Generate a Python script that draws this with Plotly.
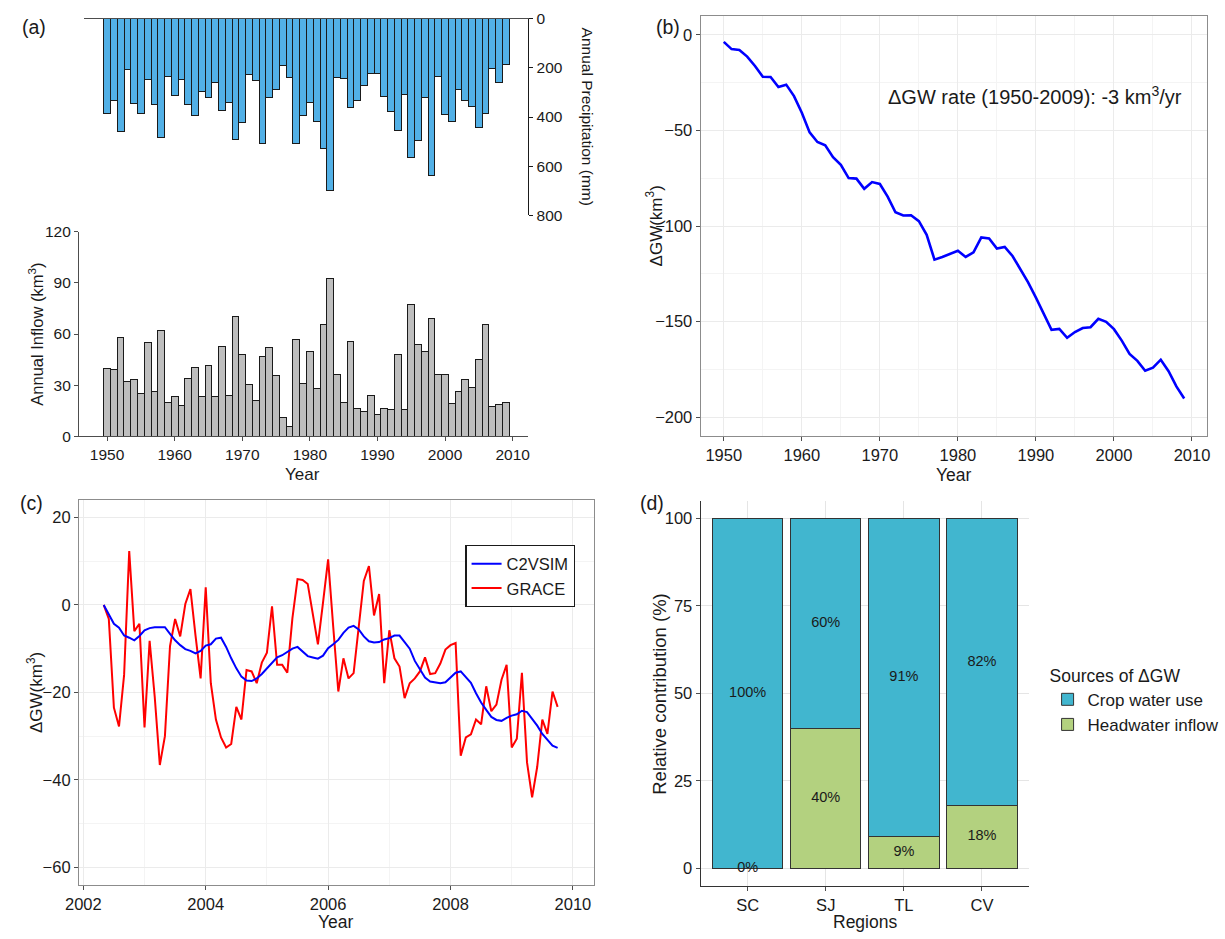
import plotly.graph_objects as go

W, H = 1225, 939
FONT = "Liberation Sans, Arial, sans-serif"

# ---------------- data ----------------
years = list(range(1950, 2010))
precip_mm = [387, 333, 460, 208, 344, 387, 248, 351, 484, 237,
             313, 249, 348, 393, 297, 321, 261, 373, 339, 493,
             421, 227, 251, 507, 321, 288, 192, 241, 509, 392,
             340, 417, 528, 701, 241, 243, 361, 331, 272, 223,
             223, 315, 377, 453, 309, 563, 497, 320, 637, 237,
             388, 420, 288, 331, 357, 441, 385, 203, 260, 187]
inflow_km3 = [40, 39, 58, 32, 33, 25, 55, 26, 62, 19.5,
              23.5, 18, 34, 40.5, 23, 41.5, 23, 52.5, 24, 70,
              48, 30.5, 21, 46.5, 52, 35.5, 11, 5.5, 57, 31,
              49.5, 28, 65.5, 92.5, 36.5, 20, 55.5, 16.5, 14.5, 24,
              13, 16, 15.5, 48, 15.5, 77.5, 54, 49.5, 69, 36,
              36, 19, 26, 33, 28.5, 45, 65.5, 17.5, 18.5, 19.5]
dgw_annual = [-3.6, -7.4, -7.9, -11.3, -16.2, -21.9, -22.0, -27.2, -26.0, -32.0,
              -40.7, -51.0, -56.0, -57.8, -64.0, -68.0, -74.9, -75.2, -80.5, -77.0,
              -78.0, -84.6, -92.8, -94.5, -94.4, -97.5, -104.6, -117.6, -116.2, -114.8,
              -113.0, -116.2, -113.8, -106.0, -106.5, -111.8, -111.0, -115.7, -122.7, -129.5,
              -137.5, -145.7, -154.4, -153.9, -158.5, -155.5, -153.4, -153.0, -148.6, -150.2,
              -154.0, -160.0, -167.0, -170.6, -175.8, -174.2, -170.0, -176.0, -184.0, -190.3]

# monthly time axis (Apr 2002 - Sep 2009)
month_t = [2002 + (4 + k) / 12 for k in range(90)]
c2vsim = [0, -2, -4.3, -5.2, -7, -7.5, -8.1, -7.1, -5.8, -5.3,
          -5.1, -5.1, -5.1, -6.6, -8.1, -9.2, -10.1, -10.5, -11.1, -10.5,
          -9.3, -9.0, -7.7, -7.5, -9.6, -12.2, -14.5, -16.4, -17.3, -17.4,
          -16.8, -15.8, -14.5, -13.4, -12.0, -11.5, -10.7, -10.0, -9.6, -10.6,
          -11.7, -12.0, -12.3, -11.6, -9.9, -9.0, -8.0, -6.4, -5.2, -4.8,
          -5.6, -7.2, -8.3, -8.6, -8.5, -7.9, -7.6, -7.0, -7.0, -8.5,
          -10.0, -12.8, -14.8, -16.6, -17.5, -17.7, -17.9, -17.7, -16.6, -15.5,
          -15.2, -16.6, -17.8, -20.2, -22.3, -24.0, -25.6, -26.3, -26.5, -25.8,
          -25.3, -25.0, -24.2, -24.5, -26.0, -27.6, -29.5, -30.9, -32.2, -32.7]
grace = [0, -3.2, -23.5, -27.8, -16, 12.3, -6, -4.3, -28, -8.2,
         -21, -36.6, -30, -9.4, -3.2, -7.2, 0.2, 3.6, -7, -16.8,
         4.0, -17.9, -26.2, -30.3, -32.6, -31.8, -23.3, -26.2, -14.9, -15.2,
         -17.9, -13.2, -10.9, -0.3, -13.7, -13.7, -15.5, -3, 5.9, 5.7,
         4.8, -2, -9, 0.5, 10.4, -5, -19.8, -12.2, -16.8, -15.6,
         -5, 5.5, 8.9, -2.4, 2.5, -17.9, -5.8, -12.2, -14.1, -21.3,
         -17.9, -16.8, -15.2, -12, -15.8, -15.6, -13.4, -10.2, -9.2, -8.7,
         -34.5, -30.3, -29.6, -26.2, -27.3, -18.6, -24.3, -22.8, -17.1, -13.7,
         -32.6, -30.6, -15.5, -36, -44, -37, -26.2, -29.5, -19.8, -23.3]

regions = ["SC", "SJ", "TL", "CV"]
crop_pct = [100, 60, 91, 82]
headwater_pct = [0, 40, 9, 18]


def px_x(a):
    return a / W


def px_y(b):
    return 1 - b / H


fig = go.Figure()

# (a) precipitation (hanging bars)
fig.add_trace(go.Bar(x=years, y=precip_mm, width=1,
                     marker=dict(color="#52B0E6", line=dict(color="#1a1a1a", width=1)),
                     xaxis="x", yaxis="y", showlegend=False))
# (a) inflow
fig.add_trace(go.Bar(x=years, y=inflow_km3, width=1,
                     marker=dict(color="#BEBEBE", line=dict(color="#1a1a1a", width=1)),
                     xaxis="x2", yaxis="y2", showlegend=False))
# (b)
fig.add_trace(go.Scatter(x=years, y=dgw_annual, mode="lines",
                         line=dict(color="#0000FF", width=2.6),
                         xaxis="x3", yaxis="y3", showlegend=False))
# (c)
fig.add_trace(go.Scatter(x=month_t, y=grace, mode="lines", name="GRACE",
                         line=dict(color="#FF0000", width=2),
                         xaxis="x4", yaxis="y4", legend="legend", legendrank=2))
fig.add_trace(go.Scatter(x=month_t, y=c2vsim, mode="lines", name="C2VSIM",
                         line=dict(color="#0000FF", width=2),
                         xaxis="x4", yaxis="y4", legend="legend", legendrank=1))
# (d)
fig.add_trace(go.Bar(x=regions, y=headwater_pct, name="Headwater inflow", width=0.9,
                     marker=dict(color="#B3D17F", line=dict(color="#333333", width=1)),
                     xaxis="x5", yaxis="y5", legend="legend2", legendrank=2))
fig.add_trace(go.Bar(x=regions, y=crop_pct, name="Crop water use", width=0.9,
                     marker=dict(color="#41B6CF", line=dict(color="#333333", width=1)),
                     xaxis="x5", yaxis="y5", legend="legend2", legendrank=1))
lab_x = regions + regions
lab_y = [h / 2 for h in headwater_pct] + [h + c / 2 for h, c in zip(headwater_pct, crop_pct)]
lab_t = [f"{v}%" for v in headwater_pct] + [f"{v}%" for v in crop_pct]
fig.add_trace(go.Scatter(x=lab_x, y=lab_y, text=lab_t, mode="text",
                         textfont=dict(family=FONT, size=14.5, color="#1a1a1a"),
                         xaxis="x5", yaxis="y5", showlegend=False, hoverinfo="skip"))

tick_a = dict(family=FONT, size=15.5, color="#1a1a1a")
tick_g = dict(family=FONT, size=16.5, color="#1a1a1a")
bw_x = dict(showline=True, mirror=True, linecolor="#8c8c8c", linewidth=1.3,
            ticks="outside", ticklen=4, tickcolor="#4d4d4d", tickwidth=1.2,
            showgrid=True, gridcolor="#EBEBEB", gridwidth=1.2, zeroline=False,
            tickfont=tick_g)

fig.update_layout(
    width=W, height=H, margin=dict(l=0, r=0, t=0, b=0),
    paper_bgcolor="white", plot_bgcolor="white", barmode="stack",
    font=dict(family=FONT, size=15, color="#1a1a1a"),
    xaxis=dict(domain=[px_x(71), px_x(522)], range=[1946.57, 2012.32], anchor="y",
               side="top", showline=True, linecolor="#4d4d4d", linewidth=1.3,
               ticks="", showticklabels=False, showgrid=False, zeroline=False),
    yaxis=dict(domain=[px_y(210), px_y(10)], range=[800, 0], anchor="x", side="right",
               showline=True, linecolor="#1a1a1a", linewidth=1.3, ticks="outside",
               ticklen=4, tickcolor="#1a1a1a", tickvals=[0, 200, 400, 600, 800],
               showgrid=False, zeroline=False, tickfont=tick_a),
    xaxis2=dict(domain=[px_x(66), px_x(522)], range=[1945.85, 2012.32], anchor="y2",
                showline=True, linecolor="#4d4d4d", linewidth=1.3, ticks="outside",
                ticklen=4, tickcolor="#4d4d4d", tickvals=list(range(1950, 2011, 10)),
                showgrid=False, zeroline=False, tickfont=tick_a),
    yaxis2=dict(domain=[px_y(435), px_y(227)], range=[0, 120], anchor="x2",
                showline=True, linecolor="#4d4d4d", linewidth=1.3, ticks="outside",
                ticklen=4, tickcolor="#4d4d4d", tickvals=[0, 30, 60, 90, 120],
                showgrid=False, zeroline=False, tickfont=tick_a),
    xaxis3=dict(bw_x, domain=[px_x(697), px_x(1211)], range=[1947.05, 2011.95], anchor="y3",
                tickvals=list(range(1950, 2011, 10)),
                minor=dict(tickvals=list(range(1955, 2011, 10)), showgrid=True,
                           gridcolor="#F4F4F4", gridwidth=1, ticks="")),
    yaxis3=dict(bw_x, domain=[px_y(435), px_y(7)], range=[-210, 10], anchor="x3",
                tickvals=[-200, -150, -100, -50, 0],
                minor=dict(tickvals=[-175, -125, -75, -25], showgrid=True,
                           gridcolor="#F4F4F4", gridwidth=1, ticks="")),
    xaxis4=dict(bw_x, domain=[px_x(66), px_x(589)], range=[2001.93, 2010.35], anchor="y4",
                tickvals=[2002, 2004, 2006, 2008, 2010],
                minor=dict(tickvals=[2003, 2005, 2007, 2009], showgrid=True,
                           gridcolor="#F4F4F4", gridwidth=1, ticks="")),
    yaxis4=dict(bw_x, domain=[px_y(892), px_y(500)], range=[-64, 24], anchor="x4",
                tickvals=[-60, -40, -20, 0, 20],
                minor=dict(tickvals=[-50, -30, -10, 10], showgrid=True,
                           gridcolor="#F4F4F4", gridwidth=1, ticks="")),
    xaxis5=dict(domain=[px_x(697), px_x(1030)], range=[-0.6, 3.6], anchor="y5",
                type="category", showline=True, linecolor="#333333", linewidth=1.3,
                ticks="outside", ticklen=4, tickcolor="#4d4d4d", showgrid=True,
                gridcolor="#E5E5E5", gridwidth=1.2, zeroline=False, tickfont=tick_g),
    yaxis5=dict(domain=[px_y(893), px_y(501)], range=[-5, 105], anchor="x5",
                showline=True, linecolor="#333333", linewidth=1.3, ticks="outside",
                ticklen=4, tickcolor="#4d4d4d", tickvals=[0, 25, 50, 75, 100],
                showgrid=True, gridcolor="#E5E5E5", gridwidth=1.2, zeroline=False,
                tickfont=tick_g),
    legend=dict(x=px_x(458), y=px_y(546), xanchor="left", yanchor="top",
                bordercolor="#1a1a1a", borderwidth=1.3, bgcolor="white",
                font=dict(family=FONT, size=16.5, color="#1a1a1a"), itemwidth=30,
                tracegroupgap=0, traceorder="normal"),
    legend2=dict(x=px_x(1049), y=px_y(662), xanchor="left", yanchor="top",
                 title=dict(text="Sources of \u0394GW", font=dict(family=FONT, size=17.5)),
                 font=dict(family=FONT, size=17, color="#1a1a1a"), itemwidth=30,
                 bgcolor="rgba(0,0,0,0)", traceorder="normal"),
)


def note(text, x, y, size=15, angle=0, **kw):
    fig.add_annotation(text=text, x=px_x(x), y=px_y(y), xref="paper", yref="paper",
                       showarrow=False, textangle=angle, xanchor="center", yanchor="middle",
                       font=dict(family=FONT, size=size, color="#1a1a1a"), **kw)


# panel labels
note("(a)", 20, 18, 19.5)
note("(b)", 664, 18, 19.5)
note("(c)", 18, 503, 19.5)
note("(d)", 648, 503, 19.5)
# axis titles
note("Annual Precipitation (mm)", 583, 110, 15.5, 90)
note("Annual Inflow (km<sup>3</sup>)", 22, 331, 16.5, -90)
note("Year", 293, 474, 17)
note("\u0394GW(km<sup>3</sup>)", 650, 221, 17, -90)
note("Year", 954, 475, 17.5)
note("\u0394GW rate (1950-2009): -3 km<sup>3</sup>/yr", 1036, 88, 20)
note("\u0394GW(km<sup>3</sup>)", 22, 696, 17, -90)
note("Year", 327, 930, 17.5)
note("Relative contribution (%)", 655, 697, 18.5, -90)
note("Regions", 864, 930, 17.5)

fig.write_html("out.html", config={"displayModeBar": False},
               post_script="document.body.style.margin='0';"
                           "document.body.style.overflow='hidden';")
